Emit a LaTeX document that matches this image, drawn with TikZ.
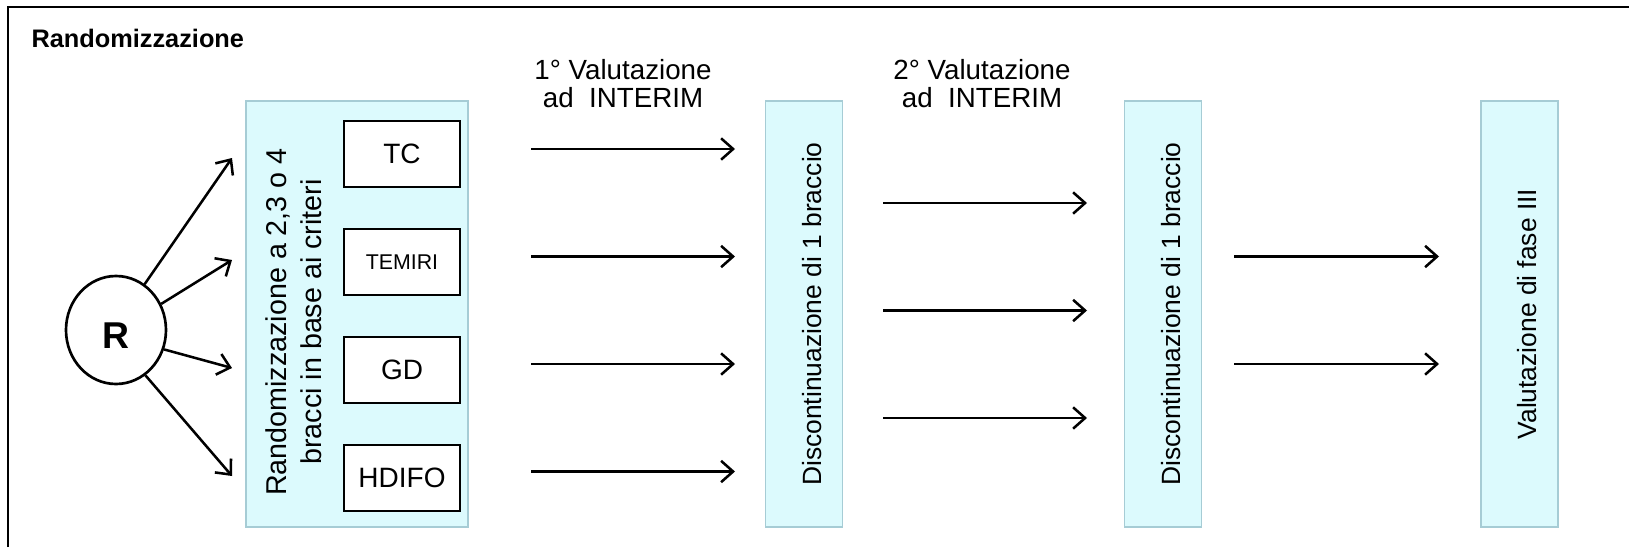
\documentclass[tikz,border=0pt]{standalone}
\usepackage{fontspec}
\setmainfont{Liberation Sans}
\usetikzlibrary{arrows.meta,shapes.geometric}

\definecolor{panelfill}{RGB}{220,250,253}
\definecolor{panelline}{RGB}{166,204,213}

\tikzset{every picture/.style={line width=0.75pt}}
\tikzset{
	flow/.style={line width=1.9pt,-{Straight Barb[length=9pt,width=16pt]}},
	panel/.style={draw=panelline,fill=panelfill,line width=1.3pt,inner sep=0pt},
	phasebox/.style={panel,rotate=90,minimum width=319.5pt,minimum height=57.75pt,text height=26pt,text depth=0pt,font=\fontsize{19.8}{23}\selectfont},
	armbox/.style={draw,fill=white,line width=1.6pt,minimum width=87pt,minimum height=49.5pt,inner sep=0pt,font=\fontsize{21}{24}\selectfont},
	evallabel/.style={align=center,inner sep=0.75pt,font=\fontsize{20.8}{21.5}\selectfont},
}

\begin{document}
\begin{tikzpicture}[x=0.75pt,y=0.75pt,yscale=-1,xscale=1]
	\useasboundingbox (0,0) rectangle (1629,547);
	
	%Straight Lines [frame]
	\draw [line width=1.6pt]  (8,547) -- (8,7) -- (1629,7) ;
	
	% Text Node
	\node (title) [anchor=base west,inner sep=0pt,font=\bfseries\fontsize{19}{23}\selectfont] at (31,47) {Randomizzazione};
	
	%Shape: Ellipse [R]
	\node (R) [draw,ellipse,line width=2pt,minimum width=75pt,minimum height=81pt,inner sep=0pt,text height=27.5pt,text depth=0pt,font=\bfseries\fontsize{28}{32}\selectfont] at (116,330) {R};
	
	%Shape: Rectangle [randomisation panel]
	\node (randbox) [panel,minimum width=166.5pt,minimum height=319.5pt] at (357,314) {};
	% Text Node
	\node (randtext) [rotate=90,align=center,inner sep=0pt,font=\fontsize{21.5}{26}\selectfont] at (294,322) {Randomizzazione a 2,3 o 4\\bracci in base ai criteri};
	
	%Shape: Rectangle [arms]
	\node (tc) [armbox] at (402,154) {TC};
	\node (temiri) [armbox,font=\fontsize{16}{19}\selectfont] at (402,262) {TEMIRI};
	\node (gd) [armbox] at (402,370) {GD};
	\node (hdifo) [armbox] at (402,478) {HDIFO};
	
	%Straight Lines [R to arms]
	\coordinate (r1) at (232,158);
	\coordinate (r2) at (232,260);
	\coordinate (r3) at (232,368);
	\coordinate (r4) at (232,476);
	\draw [flow]  (R.58) -- (r1) ;
	\draw [flow]  (R.30) -- (r2) ;
	\draw [flow]  (R.-22) -- (r3) ;
	\draw [flow]  (R.-57) -- (r4) ;
	
	%Shape: Rectangle [phases]
	\node (disc1) [phasebox] at (804,314) {Discontinuazione di 1 braccio};
	\node (disc2) [phasebox] at (1163,314) {Discontinuazione di 1 braccio};
	\node (phase3) [phasebox] at (1519.5,314) {Valutazione di fase III};
	
	% Text Node
	\node (eval1) [evallabel] at (623,83.5) {1° Valutazione\\ad\ \ INTERIM};
	% Text Node
	\node (eval2) [evallabel] at (982,83.5) {2° Valutazione\\ad\ \ INTERIM};
	
	%Straight Lines [first interim]
	\coordinate (a1) at (531,149);   \coordinate (b1) at (735,149);
	\coordinate (a2) at (531,256.5); \coordinate (b2) at (735,256.5);
	\coordinate (a3) at (531,364);   \coordinate (b3) at (735,364);
	\coordinate (a4) at (531,471.5); \coordinate (b4) at (735,471.5);
	\draw [flow]  (a1) -- (b1) ;
	\draw [flow]  (a2) -- (b2) ;
	\draw [flow]  (a3) -- (b3) ;
	\draw [flow]  (a4) -- (b4) ;
	
	%Straight Lines [second interim]
	\coordinate (c1) at (883,203);   \coordinate (d1) at (1087,203);
	\coordinate (c2) at (883,310.5); \coordinate (d2) at (1087,310.5);
	\coordinate (c3) at (883,418);   \coordinate (d3) at (1087,418);
	\draw [flow]  (c1) -- (d1) ;
	\draw [flow]  (c2) -- (d2) ;
	\draw [flow]  (c3) -- (d3) ;
	
	%Straight Lines [to phase III]
	\coordinate (e1) at (1234,256.5); \coordinate (f1) at (1439,256.5);
	\coordinate (e2) at (1234,364);   \coordinate (f2) at (1439,364);
	\draw [flow]  (e1) -- (f1) ;
	\draw [flow]  (e2) -- (f2) ;
	
\end{tikzpicture}
\end{document}
